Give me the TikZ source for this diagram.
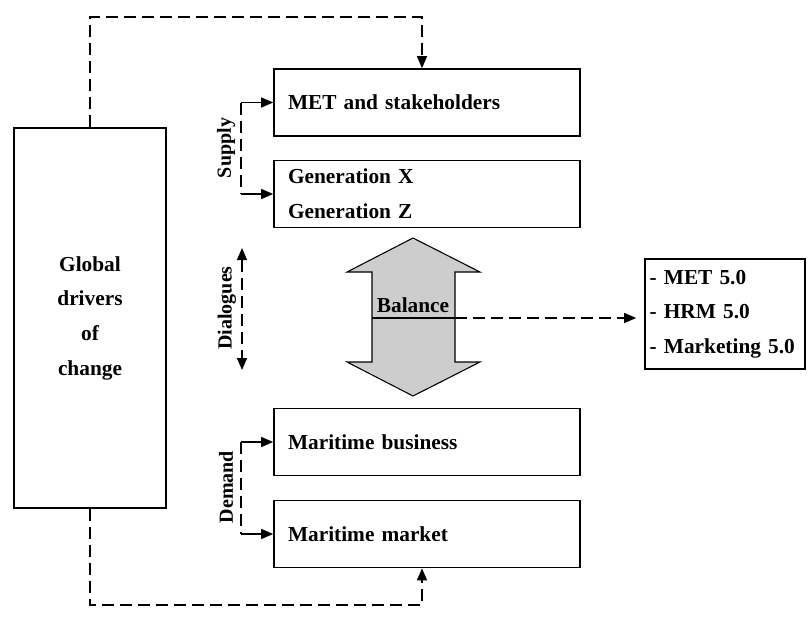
\documentclass[tikz,border=0pt]{standalone}
\usepackage{fontspec}
\setmainfont{Liberation Serif}
\usetikzlibrary{arrows.meta}
\begin{document}
\begin{tikzpicture}[x=0.75pt,y=0.75pt,yscale=-1,xscale=1,
  font=\bfseries\fontsize{16}{26}\selectfont,
  box/.style={draw,line width=1.2pt,minimum width=229.5pt,minimum height=50.25pt,text width=208.5pt,inner xsep=10.5pt,inner ysep=0pt,align=left},
  dsh/.style={dash pattern=on 9pt off 4.5pt,line width=1pt},
  tip/.style={-{Triangle[length=9pt,width=7.5pt]}},
  side/.style={rotate=90,font=\bfseries\fontsize{15}{18}\selectfont,inner sep=0.75pt}
 ]
 \useasboundingbox (0,0) rectangle (808,622);

 %Shape: left box
 \node [draw,line width=1.2pt,minimum width=114pt,minimum height=285pt,align=center] (glob) at (90,318) {Global\\drivers\\of\\change};
 %Shape: right boxes
 \node [box] (met) at (427,102.5) {MET and stakeholders};
 \node [box] (gen) at (427,194) {Generation X\\Generation Z};
 \node [box] (bus) at (427,442) {Maritime business};
 \node [box] (mkt) at (427,534) {Maritime market};
 %Shape: outcome box
 \node [draw,line width=1.2pt,minimum width=120pt,minimum height=82.5pt,text width=113pt,inner xsep=3.5pt,align=left] (outs) at (725,314) {- MET 5.0\\- HRM 5.0\\- Marketing 5.0};

 %Shape: double arrow
 \draw [fill={rgb, 255:red, 205; green, 205; blue, 205 },line width=0.8pt] (413,238) -- (480,272) -- (455,272) -- (455,362) -- (480,362) -- (413,396) -- (347,362) -- (372,362) -- (372,272) -- (347,272) -- cycle ;
 \draw [line width=0.8pt] (372,318) -- (455,318) ;
 \node (bal) at (413,305) {Balance};
 \coordinate (balR) at (455,318);

 %Straight Lines: feedback loops
 \coordinate (tl) at (90,17);
 \coordinate (tr) at (422,17);
 \draw [dsh,tip] (glob.north) -- (tl) -- (tr) -- (tr |- met.north) ;
 \coordinate (bl) at (90,605);
 \coordinate (br) at (422,605);
 \draw [dsh,tip] (glob.south) -- (bl) -- (br) -- (br |- mkt.south) ;
 %Straight Lines: balance to outcome
 \draw [dsh,tip,shorten >=6pt] (balR) -- (balR -| outs.west) ;

 %Straight Lines: supply
 \coordinate (sx) at (241,0);
 \draw [dsh] (sx |- met.west) -- (sx |- gen.west) ;
 \draw [line width=1pt,tip] (sx |- met.west) -- (met.west) ;
 \draw [line width=1pt,tip] (sx |- gen.west) -- (gen.west) ;
 %Straight Lines: demand
 \draw [dsh] (sx |- bus.west) -- (sx |- mkt.west) ;
 \draw [line width=1pt,tip] (sx |- bus.west) -- (bus.west) ;
 \draw [line width=1pt,tip] (sx |- mkt.west) -- (mkt.west) ;
 %Straight Lines: dialogues
 \coordinate (dlgT) at (242,248);
 \coordinate (dlgB) at (242,370);
 \draw [dsh,{Triangle[length=9pt,width=7.5pt]}-{Triangle[length=9pt,width=7.5pt]}] (dlgT) -- (dlgB) ;

 % Text Node
 \node [side] (supl) at (226,148) {Supply};
 % Text Node
 \node [side] (dial) at (227,308) {Dialogues};
 % Text Node
 \node [side] (deml) at (226,487) {Demand};

\end{tikzpicture}
\end{document}
